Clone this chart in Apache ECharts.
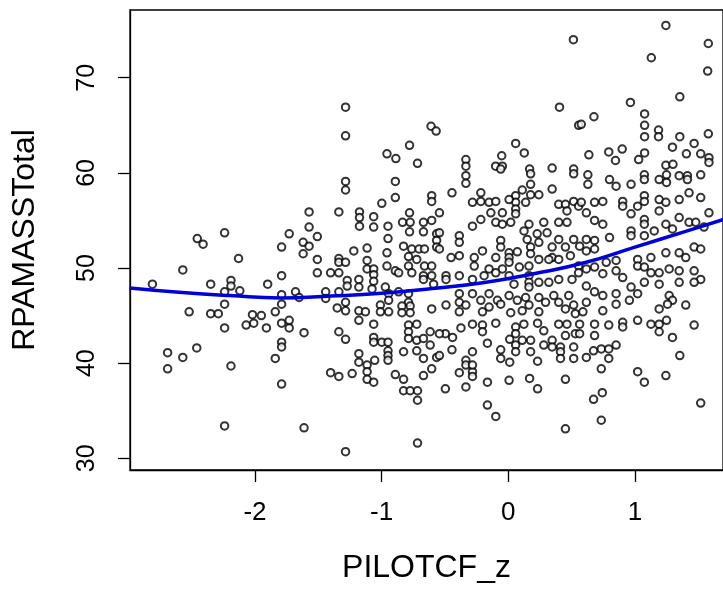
<!DOCTYPE html>
<html>
<head>
<meta charset="utf-8">
<script src="https://cdn.jsdelivr.net/npm/echarts@6/dist/echarts.min.js"></script>
<style>
html,body{margin:0;padding:0;background:#fff;}
#chart{width:723px;height:589px;}
</style>
</head>
<body>
<div id="chart"></div>
<script>
// x = PILOTCF_z, y = RPAMASSTotal
const scatterPoints = [
[-2.456,53.1],[-2.41,52.5],[-2.24,53.7],[-1.73,53.6],[-1.79,52.2],[-2.13,51.0],[-2.57,49.8],[-2.81,48.3],[-2.35,48.3],[-2.19,48.7],
[-2.19,48.1],[-2.24,47.5],[-2.12,47.6],[-1.90,48.3],[-1.79,49.2],[-1.79,47.2],[-1.68,47.5],[-2.52,45.4],[-2.35,45.2],[-2.29,45.2],
[-2.24,46.2],[-2.02,45.1],[-1.95,45.0],[-2.07,44.0],[-2.01,44.2],[-1.91,43.7],[-1.84,45.4],[-1.79,46.2],[-1.79,44.2],[-1.73,43.7],
[-1.73,44.5],[-2.24,43.7],[-2.69,41.1],[-2.69,39.4],[-2.57,40.6],[-2.46,41.6],[-2.19,39.7],[-1.84,40.5],[-1.79,42.2],[-1.79,41.7],
[-1.79,37.8],[-2.24,33.4],
[-1.285,66.9],[-1.285,63.9],[-0.958,62.0],[-0.888,61.5],[-0.78,62.9],[-0.717,61.0],[-0.61,64.9],[-0.57,64.4],
[0.514,74.0],[0.404,66.9],[0.555,65.0],[0.058,63.1],[0.126,62.1],[-0.335,61.4],[-0.335,60.7],[-0.052,61.8],[-0.10,60.7],[-0.047,60.7],
[0.346,60.5],[0.168,60.4],[0.516,60.4],
[1.244,75.5],[1.579,73.6],[1.129,72.1],[1.574,70.7],[1.354,68.0],[0.964,67.4],[0.676,65.9],[0.576,65.1],[1.076,66.2],[1.076,65.0],
[1.076,63.8],[1.186,64.5],[1.186,63.8],[1.354,63.8],[1.579,64.1],[1.467,63.1],[1.296,62.7],[1.406,62.0],[1.519,62.0],[1.584,61.6],
[1.584,61.1],[0.899,62.5],[0.793,62.2],[0.846,61.3],[1.076,62.1],[1.029,61.4],[0.636,61.9],[1.244,60.8],[1.30,60.9],
[-1.285,59.1],[-1.285,58.2],[-0.892,59.1],[-0.892,57.4],[-0.999,56.8],[-0.605,57.6],[-0.605,57.0],[-1.573,55.9],[-1.338,55.9],[-1.175,55.9],
[-1.175,55.3],[-1.175,54.4],[-1.063,55.4],[-1.063,54.3],[-0.95,54.4],[-0.95,53.1],[-0.78,55.8],[-0.835,54.8],[-0.775,54.8],[-0.78,53.8],
[-0.67,54.8],[-0.67,53.8],[-0.605,55.0],[-0.566,53.6],[-0.566,52.9],[-0.566,52.2],[-1.573,54.3],[-1.508,53.3],[-1.62,52.7],[-1.573,52.3],
[-1.62,51.5],[-1.508,50.9],[-1.508,49.5],[-1.403,49.5],[-1.338,51.0],[-1.338,50.6],[-1.338,49.5],[-1.285,50.6],[-1.22,51.8],[-1.115,52.1],
[-1.115,50.8],[-1.115,49.9],[-1.063,49.9],[-1.063,49.3],[-1.063,48.6],[-0.958,51.6],[-0.958,50.2],[-0.892,49.7],[-0.827,52.3],[-0.762,52.0],
[-0.705,52.0],[-0.662,52.0],[-0.788,51.2],[-0.788,50.2],[-0.723,50.9],[-0.662,50.2],[-0.605,50.2],[-0.866,49.5],[-0.762,49.5],[-0.67,49.2],
[-0.605,49.2],[-1.442,47.5],[-1.442,46.8],[-1.338,47.5],[-1.272,48.7],[-1.272,48.1],[-1.18,48.8],[-1.18,48.0],[-1.076,47.8],[-0.971,48.0],
[-0.945,47.3],[-0.945,46.6],[-0.866,47.5],[-0.788,47.3],[-0.788,46.4],[-0.67,48.8],[-0.59,48.3],[-1.285,46.4],[-1.351,45.8],[-1.285,45.5],
[-1.18,45.5],[-1.128,45.4],[-1.01,46.1],[-1.01,45.4],[-0.945,45.4],[-0.84,46.0],[-0.775,46.0],[-0.84,45.3],[-0.775,45.3],[-0.605,45.7],
[-1.652,46.9],
[-1.613,43.2],[-1.338,43.3],[-1.285,42.5],[-1.18,44.5],[-1.063,44.1],[-1.063,42.7],[-1.063,42.2],[-0.999,42.2],[-0.95,42.2],[-0.95,41.3],
[-0.95,40.8],[-0.95,40.3],[-1.18,41.0],[-1.18,40.1],[-1.115,39.8],[-1.115,39.1],[-1.055,40.3],[-1.403,39.0],[-1.338,38.6],[-1.233,38.9],
[-1.115,38.3],[-1.063,38.0],[-0.892,38.8],[-0.827,38.3],[-0.827,41.2],[-0.827,37.1],[-0.775,37.1],[-0.717,37.1],[-0.717,36.1],[-0.788,44.0],
[-0.788,43.3],[-0.788,42.6],[-0.723,44.1],[-0.723,42.4],[-0.723,41.3],[-0.67,42.6],[-0.67,40.5],[-0.617,43.3],[-0.617,41.9],[-0.605,39.4],
[-0.67,38.7],[-0.566,40.6],[-1.613,33.2],[-1.285,30.7],[-0.717,31.6],
[-0.497,37.3],[-0.335,37.5],[-0.165,35.6],[-0.099,34.4],[-0.165,38.0],[0.006,38.2],[0.168,38.4],[0.231,37.3],[0.451,38.3],[0.451,33.1],
[-0.387,39.0],[-0.283,39.1],[-0.283,38.6],[-0.283,41.2],[-0.335,40.3],[-0.335,39.8],[-0.283,39.8],[-0.445,41.4],[-0.544,40.8],[-0.165,42.1],
[-0.06,41.4],[-0.06,40.5],[0.011,40.1],[0.011,42.5],[0.058,41.9],[0.058,41.2],[0.11,42.4],[0.176,42.4],[0.176,41.2],[0.231,40.2],
[0.28,41.9],[0.346,42.4],[0.346,41.7],[0.412,41.7],[0.412,41.2],[0.412,40.5],[0.516,41.7],[0.516,40.5],[0.451,42.9],[-0.374,43.7],
[-0.283,44.1],[-0.204,44.0],[-0.204,43.3],[-0.099,44.2],[0.058,43.8],[0.058,43.1],[0.123,44.1],[0.231,44.2],[0.28,43.4],[0.398,44.1],
[0.463,44.1],[0.529,43.1],[-0.497,43.1],[-0.44,42.7],[-0.544,43.1],
[1.467,44.0],[1.296,42.7],[1.354,40.8],[1.021,39.1],[1.074,38.0],[1.244,38.7],[1.519,35.8],[0.734,39.4],[0.673,36.2],[0.742,36.9],
[0.734,34.0],[0.616,40.6],[0.673,41.3],[0.734,41.5],[0.793,41.5],[0.793,40.5],[0.851,41.9],[0.563,44.1],[0.563,43.1],[0.681,44.1],
[0.681,42.9],[0.793,44.0],[0.903,44.3],[0.903,43.8],[1.021,44.5],[1.126,44.1],[1.191,44.1],[1.191,43.3],[1.249,44.5],
[-0.335,59.7],[-0.335,58.9],[-0.06,60.4],[0.176,59.9],[0.176,58.8],[0.176,57.7],[0.241,57.7],[0.11,58.2],[0.346,58.3],[0.516,59.9],
[-0.445,57.9],[-0.217,57.9],[-0.217,57.0],[-0.283,56.9],[-0.152,56.9],[-0.099,57.0],[0.058,57.6],[0.058,56.9],[0.058,56.2],[0.058,55.7],
[0.006,57.2],[0.137,56.9],[-0.217,55.1],[-0.283,54.4],[-0.138,55.8],[-0.099,54.8],[-0.047,55.8],[-0.047,54.6],[0.019,54.8],[-0.544,55.8],
[-0.544,53.7],[0.163,54.6],[0.28,54.8],[0.398,56.7],[0.451,56.7],[0.463,56.0],[0.398,54.8],[0.463,54.8],[0.516,57.0],[0.555,56.5],
[0.124,53.9],[0.228,53.6],[0.306,53.7],[0.149,53.0],[-0.387,53.4],[-0.387,52.7],[-0.387,51.3],[-0.204,51.8],[-0.06,52.9],[-0.06,52.2],
[0.006,51.6],[0.006,51.1],[0.006,50.6],[0.071,51.7],[0.176,52.2],[0.176,51.5],[0.241,52.7],[0.346,52.2],[0.346,51.1],[0.398,53.0],
[0.451,52.2],[0.516,53.0],[-0.544,52.0],[-0.452,51.1],[-0.269,51.1],[-0.269,50.2],[-0.099,51.1],[-0.152,49.9],[-0.047,49.9],[0.087,50.1],
[0.163,50.2],[0.241,50.9],[0.32,50.9],[0.398,50.9],[0.49,51.3],[0.555,50.2],[-0.492,49.2],[-0.492,48.8],[-0.387,49.2],[-0.283,48.8],
[-0.191,49.2],[-0.099,49.5],[0.006,49.2],[0.045,48.3],[0.163,49.2],[0.163,48.5],[0.163,48.0],[0.241,48.5],[0.32,48.5],[0.398,48.8],
[0.503,48.8],[0.555,49.5],[-0.387,47.3],[-0.387,46.4],[-0.335,46.1],[-0.283,47.3],[-0.217,46.6],[-0.152,47.3],[-0.086,46.6],[0.006,47.1],
[0.071,46.6],[0.137,46.9],[0.163,46.1],[0.241,46.9],[0.294,46.4],[0.359,47.1],[0.398,46.4],[0.477,47.1],[0.516,46.1],[-0.492,46.1],
[-0.387,45.4],[-0.204,45.4],[-0.152,45.9],[-0.06,46.2],[0.019,45.3],[0.11,45.5],[0.241,45.4],[0.451,45.7],[0.529,45.2],
[0.628,59.8],[0.628,58.8],[0.799,59.3],[0.851,58.6],[0.969,58.8],[1.074,59.8],[1.074,59.3],[1.191,59.3],[1.249,59.8],[1.249,59.0],
[1.349,59.7],[1.414,59.7],[1.414,59.3],[1.519,59.8],[0.576,56.9],[0.681,56.9],[0.746,57.0],[0.616,55.8],[0.681,55.0],[0.746,54.6],
[0.903,57.0],[0.903,56.5],[0.969,55.7],[1.021,56.5],[1.074,57.6],[1.074,57.0],[1.074,55.1],[1.074,54.6],[1.191,57.2],[1.244,56.9],
[1.191,56.0],[1.349,57.2],[1.427,57.9],[1.519,57.4],[1.584,55.8],[1.349,55.3],[1.427,54.8],[1.48,54.8],[1.545,54.3],[1.244,54.6],
[1.296,54.1],[1.152,53.9],[0.616,53.0],[0.681,52.9],[0.799,53.2],[0.969,53.9],[0.969,53.4],[1.074,53.4],[0.616,51.8],[0.681,52.0],
[0.563,52.3],[1.467,52.2],[1.519,52.0],[1.244,51.6],[1.349,51.6],[1.401,51.1],[1.126,51.1],[1.021,50.9],[0.851,50.8],[0.773,50.6],
[0.616,49.9],[0.681,50.1],[0.746,49.4],[0.851,49.7],[0.903,49.0],[1.021,50.2],[1.074,50.1],[1.126,49.5],[1.191,49.5],[1.27,49.9],
[1.349,49.7],[1.467,49.7],[1.519,48.8],[1.467,48.5],[1.349,48.5],[1.191,48.3],[1.074,48.5],[0.969,48.0],[0.616,48.1],[0.681,47.5],
[0.746,47.1],[0.851,47.3],[0.956,46.6],[1.021,47.3],[1.27,47.1],[1.296,46.6],[1.401,46.1],[0.616,46.4],[0.746,45.5],[0.851,46.2],
[1.191,45.7],[1.257,46.2],[0.589,45.4]
];

// smooth (loess) fit line
const fitX = [-2.99,-2.6,-2.2,-1.8,-1.4,-1.0,-0.6,-0.2,0.2,0.6,1.0,1.4,1.7];
const fitY = [47.9,47.45,47.1,46.85,47.05,47.35,47.85,48.45,49.4,50.55,52.2,53.85,55.1];

const xTicks = [-2,-1,0,1];
const yTicks = [30,40,50,60,70];

const xMin = -2.987, xMax = 1.695;
const yMin = 28.77, yMax = 77.12;

const chart = echarts.init(document.getElementById('chart'), null, {renderer:'canvas'});
const font = 'Liberation Sans, Arial, sans-serif';

chart.setOption({
  animation:false,
  backgroundColor:'#fff',
  grid:{left:130, top:10, width:596, height:461.7, show:true, borderColor:'#000', borderWidth:1.3, backgroundColor:'transparent'},
  xAxis:{
    type:'value', min:xMin, max:xMax,
    name:'PILOTCF_z', nameLocation:'middle', nameGap:82,
    nameTextStyle:{fontFamily:font, fontSize:32, color:'#000'},
    axisLine:{show:true, onZero:false, lineStyle:{color:'#000', width:1.3}},
    axisTick:{show:true, length:12, customValues:xTicks, lineStyle:{color:'#000', width:1.3}},
    axisLabel:{show:true, customValues:xTicks, margin:30, fontFamily:font, fontSize:26, color:'#000'},
    splitLine:{show:false}
  },
  yAxis:{
    type:'value', min:yMin, max:yMax,
    name:'RPAMASSTotal', nameLocation:'middle', nameGap:89, nameRotate:90,
    nameTextStyle:{fontFamily:font, fontSize:32, color:'#000'},
    axisLine:{show:true, onZero:false, lineStyle:{color:'#000', width:1.3}},
    axisTick:{show:true, length:12, customValues:yTicks, lineStyle:{color:'#000', width:1.3}},
    axisLabel:{show:true, customValues:yTicks, rotate:90, margin:30, fontFamily:font, fontSize:25, color:'#000'},
    splitLine:{show:false}
  },
  series:[
    {
      type:'scatter',
      data:scatterPoints,
      symbol:'emptyCircle',
      symbolSize:7.5,
      itemStyle:{color:'#000', borderColor:'#000', borderWidth:1.4},
      silent:true,
      z:2
    },
    {
      type:'line',
      data:fitX.map((x,i)=>[x,fitY[i]]),
      smooth:true,
      showSymbol:false,
      lineStyle:{color:'#0000DD', width:3.5},
      silent:true,
      z:3
    }
  ]
});
</script>
</body>
</html>
